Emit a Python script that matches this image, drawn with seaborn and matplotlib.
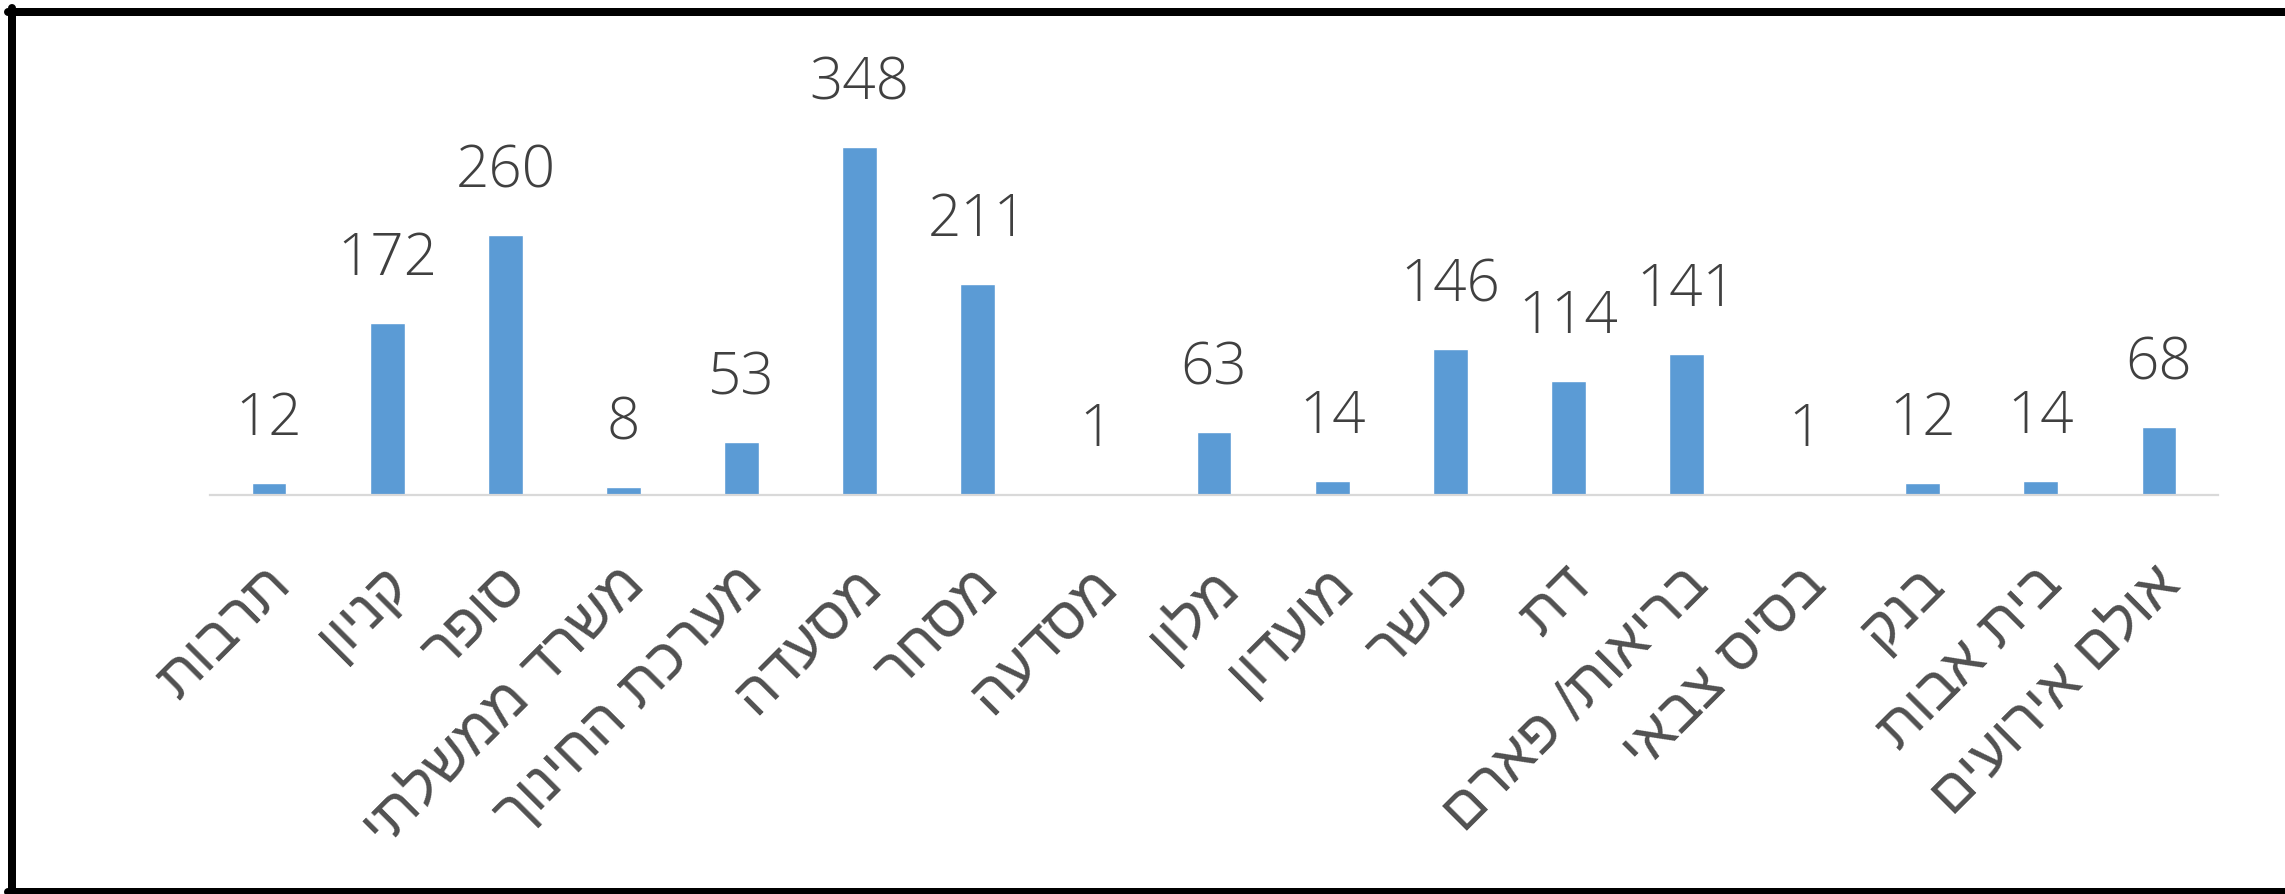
import matplotlib
matplotlib.use("Agg")
import matplotlib.pyplot as plt
import matplotlib.transforms as mtransforms
from matplotlib.lines import Line2D
import seaborn as sns
import pandas as pd

# data
categories = ["תרבות", "קניון", "סופר", "משרד ממשלתי", "מערכת החינוך", "מסעדה",
              "מסחר", "מסדעה", "מלון", "מועדון", "כושר", "דת", "בריאות/ פארם",
              "בסיס צבאי", "בנק", "בית אבות", "אולם אירועים"]
counts = [12, 172, 260, 8, 53, 348, 211, 1, 63, 14, 146, 114, 141, 1, 12, 14, 68]

# matplotlib has no bidi, so hebrew is given in visual order
visual = [c[::-1] for c in categories]
df = pd.DataFrame({"cat": visual, "n": counts})

sns.set_style("white")
NUM_FONT = ["Open Sans", "DejaVu Sans"]
HEB_FONT = ["Liberation Sans", "DejaVu Sans"]
plt.rcParams["font.family"] = HEB_FONT
TXT = "#404040"
BLUE = "#5B9BD5"

W, H = 2285, 895
fig = plt.figure(figsize=(W / 100, H / 100), dpi=100)
ax = fig.add_axes([210 / W, 1 - 496 / H, 2008 / W, 400 / H])

sns.barplot(data=df, x="cat", y="n", color=BLUE, width=0.295, ax=ax,
            saturation=1, order=visual)

ax.set_xlim(-0.5, len(counts) - 0.5)
ax.set_ylim(0, 400)
ax.set_xlabel("")
ax.set_ylabel("")
ax.set_yticks([])
for s in ["top", "right", "left"]:
    ax.spines[s].set_visible(False)
ax.spines["bottom"].set_color("#D9D9D9")
ax.spines["bottom"].set_linewidth(1.6)

# value labels
for i, v in enumerate(counts):
    ax.annotate(str(v), xy=(i, v), xytext=(0, 35), textcoords="offset points",
                ha="center", va="baseline", fontsize=42, color=TXT,
                family=NUM_FONT, fontweight="light")

# rotated category labels
ax.set_xticks(range(len(visual)))
ax.set_xticklabels(visual, rotation=45, ha="right", va="top",
                   rotation_mode="anchor", fontsize=42, color="#505050",
                   family=HEB_FONT)
ax.tick_params(axis="x", length=0, pad=44)
shift = mtransforms.ScaledTranslation(-6 / 100, 0, fig.dpi_scale_trans)
for lab in ax.get_xticklabels():
    lab.set_transform(lab.get_transform() + shift)

# black frame (right side is cropped off in the original)
lw = 8 * 72 / 100
fig.add_artist(Line2D([12 / W, 12 / W], [0, 1 - 9 / H], color="black", lw=lw,
                      transform=fig.transFigure))
fig.add_artist(Line2D([8 / W, 1], [1 - 13 / H, 1 - 13 / H], color="black", lw=lw,
                      transform=fig.transFigure))
fig.add_artist(Line2D([8 / W, 1], [1 - 893 / H, 1 - 893 / H], color="black", lw=lw,
                      transform=fig.transFigure))

fig.savefig("out.png", dpi=100, facecolor="white")
